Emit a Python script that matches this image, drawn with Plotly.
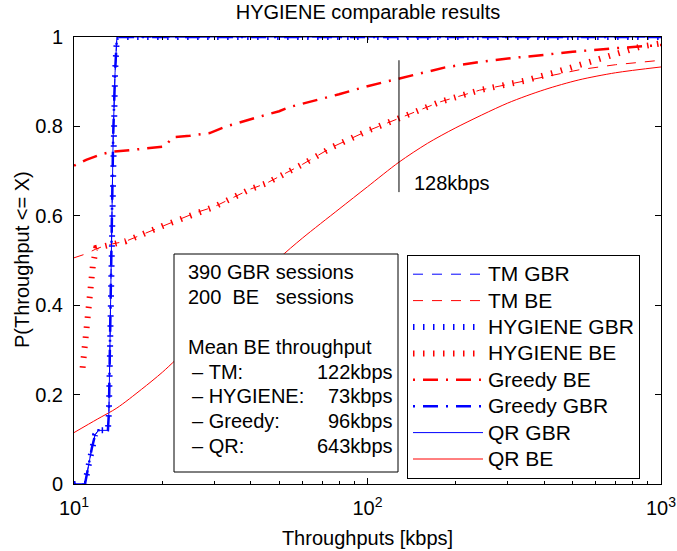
import math
import plotly.graph_objects as go

# ---------------- data ----------------
GBR_X = [10, 10.9, 11.2, 11.5, 11.8, 12.1, 13.05, 13.15, 13.25, 13.4, 13.5, 13.6, 13.8, 14.0, 1000]
GBR_Y = [0, 0, 0.04, 0.08, 0.11, 0.12, 0.12, 0.16, 0.3, 0.5, 0.65, 0.78, 0.92, 1.0, 1.0]

TM_BE_X = [10, 11, 11.9, 13, 15, 20, 26, 30, 40, 45, 60, 76, 100, 128, 177, 241, 348, 441, 530, 700, 870, 1000]
TM_BE_Y = [0.506, 0.515, 0.526, 0.535, 0.543, 0.577, 0.607, 0.62, 0.66, 0.672, 0.715, 0.754, 0.79, 0.818,
           0.855, 0.881, 0.903, 0.917, 0.927, 0.938, 0.945, 0.948]

HYG_BE_X = [10.7, 10.9, 11.1, 11.35, 11.6, 11.9, 13, 15, 20, 26, 30, 40, 45, 60, 76, 100, 128, 177, 241, 348,
            441, 573, 706, 847, 1000]
HYG_BE_Y = [0.26, 0.32, 0.38, 0.44, 0.49, 0.528, 0.535, 0.543, 0.577, 0.607, 0.62, 0.66, 0.672, 0.715, 0.754,
            0.79, 0.818, 0.855, 0.881, 0.903, 0.922, 0.945, 0.96, 0.978, 0.986]

GREEDY_BE_X = [10, 11, 12.4, 13.4, 15.5, 20.4, 21.7, 24.8, 29, 33, 42, 50, 54, 64, 80, 100, 128, 184, 240, 310,
               400, 500, 700, 1000]
GREEDY_BE_Y = [0.712, 0.725, 0.738, 0.743, 0.747, 0.755, 0.776, 0.779, 0.785, 0.80, 0.82, 0.834, 0.843, 0.855,
               0.872, 0.89, 0.907, 0.932, 0.944, 0.953, 0.96, 0.967, 0.975, 0.982]

QR_BE_X = [10, 12, 14, 17, 20, 25, 30, 40, 50, 60, 80, 100, 128, 160, 200, 300, 400, 525, 700, 1000]
QR_BE_Y = [0.115, 0.145, 0.17, 0.212, 0.25, 0.31, 0.36, 0.44, 0.505, 0.55, 0.615, 0.665, 0.72, 0.762, 0.797,
           0.852, 0.882, 0.904, 0.92, 0.933]

MARK_X = [128, 128]
MARK_Y = [0.653, 0.948]
MARK_LABEL = "128kbps"

INFO_LINES = ["390 GBR sessions", "200  BE   sessions", "", "Mean BE throughput",
              " – TM:", " – HYGIENE:", " – Greedy:", " – QR:"]
INFO_VALUES = ["122kbps", "73kbps", "96kbps", "643kbps"]

X_TICKS = [10, 100, 1000]
X_TICKTEXT = ["10<sup>1</sup>", "10<sup>2</sup>", "10<sup>3</sup>"]
Y_TICKS = [0, 0.2, 0.4, 0.6, 0.8, 1]

RED = "#ff0000"
BLUE = "#0000ff"
FONT = "Liberation Sans, Arial, Helvetica, sans-serif"

# ---------------- layout geometry ----------------
W, H = 677, 551
ML, MR, MT, MB = 74, 16, 37, 67
PW, PH = W - ML - MR, H - MT - MB


def px_x(px):
    return (px - ML) / PW


def px_y(py):
    return (H - MB - py) / PH


def leg(name):
    # legend spacing follows legend font size; the label itself is drawn a bit larger
    return '<span style="font-size:21px">' + name + '</span>'


DASHED = "10px,9px"
DOTTED = "1.5px,8.5px"
DASHDOT = "2px,8px,15px,8px"

fig = go.Figure()

# red (BE) curves first, blue (GBR) on top
fig.add_trace(go.Scatter(x=TM_BE_X, y=TM_BE_Y, name=leg("TM BE"), mode="lines", legendrank=2,
                         line=dict(color=RED, width=1, dash=DASHED)))
fig.add_trace(go.Scatter(x=HYG_BE_X, y=HYG_BE_Y, name=leg("HYGIENE BE"), mode="lines", legendrank=4,
                         line=dict(color=RED, width=6, dash=DOTTED)))
fig.add_trace(go.Scatter(x=GREEDY_BE_X, y=GREEDY_BE_Y, name=leg("Greedy BE"), mode="lines", legendrank=5,
                         line=dict(color=RED, width=2.5, dash=DASHDOT)))
fig.add_trace(go.Scatter(x=QR_BE_X, y=QR_BE_Y, name=leg("QR BE"), mode="lines", legendrank=8,
                         line=dict(color=RED, width=1, shape="spline", smoothing=0.8)))

fig.add_trace(go.Scatter(x=GBR_X, y=GBR_Y, name=leg("TM GBR"), mode="lines", legendrank=1,
                         line=dict(color=BLUE, width=1, dash=DASHED)))
fig.add_trace(go.Scatter(x=GBR_X, y=GBR_Y, name=leg("Greedy GBR"), mode="lines", legendrank=6,
                         line=dict(color=BLUE, width=2.5, dash=DASHDOT)))
fig.add_trace(go.Scatter(x=GBR_X, y=GBR_Y, name=leg("QR GBR"), mode="lines", legendrank=7,
                         line=dict(color=BLUE, width=1)))
fig.add_trace(go.Scatter(x=GBR_X, y=GBR_Y, name=leg("HYGIENE GBR"), mode="lines", legendrank=3,
                         line=dict(color=BLUE, width=6, dash=DOTTED)))

# 128 kbps marker line
fig.add_trace(go.Scatter(x=MARK_X, y=MARK_Y, mode="lines", showlegend=False, hoverinfo="skip",
                         line=dict(color="black", width=1)))

annotations = [
    dict(x=math.log10(MARK_X[0]), y=0.674, xref="x", yref="y", text=MARK_LABEL, showarrow=False,
         xanchor="left", yanchor="middle", xshift=13, font=dict(size=20, color="black", family=FONT)),
    # y-axis title
    dict(x=px_x(22), y=px_y(260), xref="paper", yref="paper", text="P(Throughput <= X)", showarrow=False,
         textangle=-90, xanchor="center", yanchor="middle", font=dict(size=20, color="black", family=FONT)),
]

# info box text
line_top = 272
line_gap = 24.9
for i, t in enumerate(INFO_LINES):
    if not t:
        continue
    xpx = 186 if not t.startswith(" ") else 190
    annotations.append(dict(x=px_x(xpx), y=px_y(line_top + i * line_gap), xref="paper", yref="paper",
                            text=t.strip().replace(" ", "\u00a0"), showarrow=False,
                            xanchor="left", yanchor="middle",
                            font=dict(size=20, color="black", family=FONT)))
for j, v in enumerate(INFO_VALUES):
    i = 4 + j
    annotations.append(dict(x=px_x(395), y=px_y(line_top + i * line_gap), xref="paper", yref="paper",
                            text=v, showarrow=False, xanchor="right", yanchor="middle",
                            font=dict(size=20, color="black", family=FONT)))

shapes = [
    dict(type="rect", xref="paper", yref="paper", x0=px_x(174), x1=px_x(398), y0=px_y(472), y1=px_y(254),
         line=dict(color="black", width=1), fillcolor="white", layer="above"),
]

axis_common = dict(showline=True, linecolor="black", linewidth=1, mirror="ticks", ticks="inside",
                   tickcolor="black", showgrid=False, zeroline=False,
                   tickfont=dict(size=20, color="black", family=FONT))

fig.update_layout(
    width=W, height=H,
    margin=dict(l=ML, r=MR, t=MT, b=MB, autoexpand=False),
    paper_bgcolor="white", plot_bgcolor="white",
    font=dict(family=FONT, color="black", size=20),
    title=dict(text="HYGIENE comparable results", x=(368) / W, xanchor="center",
               y=1 - 12 / H, yanchor="middle", font=dict(size=20, color="black", family=FONT)),
    xaxis=dict(type="log", range=[1, 3], tickvals=X_TICKS, ticktext=X_TICKTEXT, ticklen=6,
               ticklabelstandoff=6,
               minor=dict(ticks="inside", ticklen=3, tickcolor="black",
                          tickvals=[20, 30, 40, 50, 60, 70, 80, 90, 200, 300, 400, 500, 600, 700, 800, 900]),
               title=dict(text="Throughputs [kbps]", font=dict(size=20, family=FONT), standoff=12),
               automargin=False, **axis_common),
    yaxis=dict(range=[0, 1], tickvals=Y_TICKS, ticklen=6, ticklabelstandoff=6,
               automargin=False, **axis_common),
    legend=dict(x=px_x(407), y=px_y(255), xanchor="left", yanchor="top", bgcolor="white",
                bordercolor="black", borderwidth=1, font=dict(size=18, color="black", family=FONT),
                traceorder="normal", itemwidth=70),
    annotations=annotations,
    shapes=shapes,
)

fig.write_html("out.html")
